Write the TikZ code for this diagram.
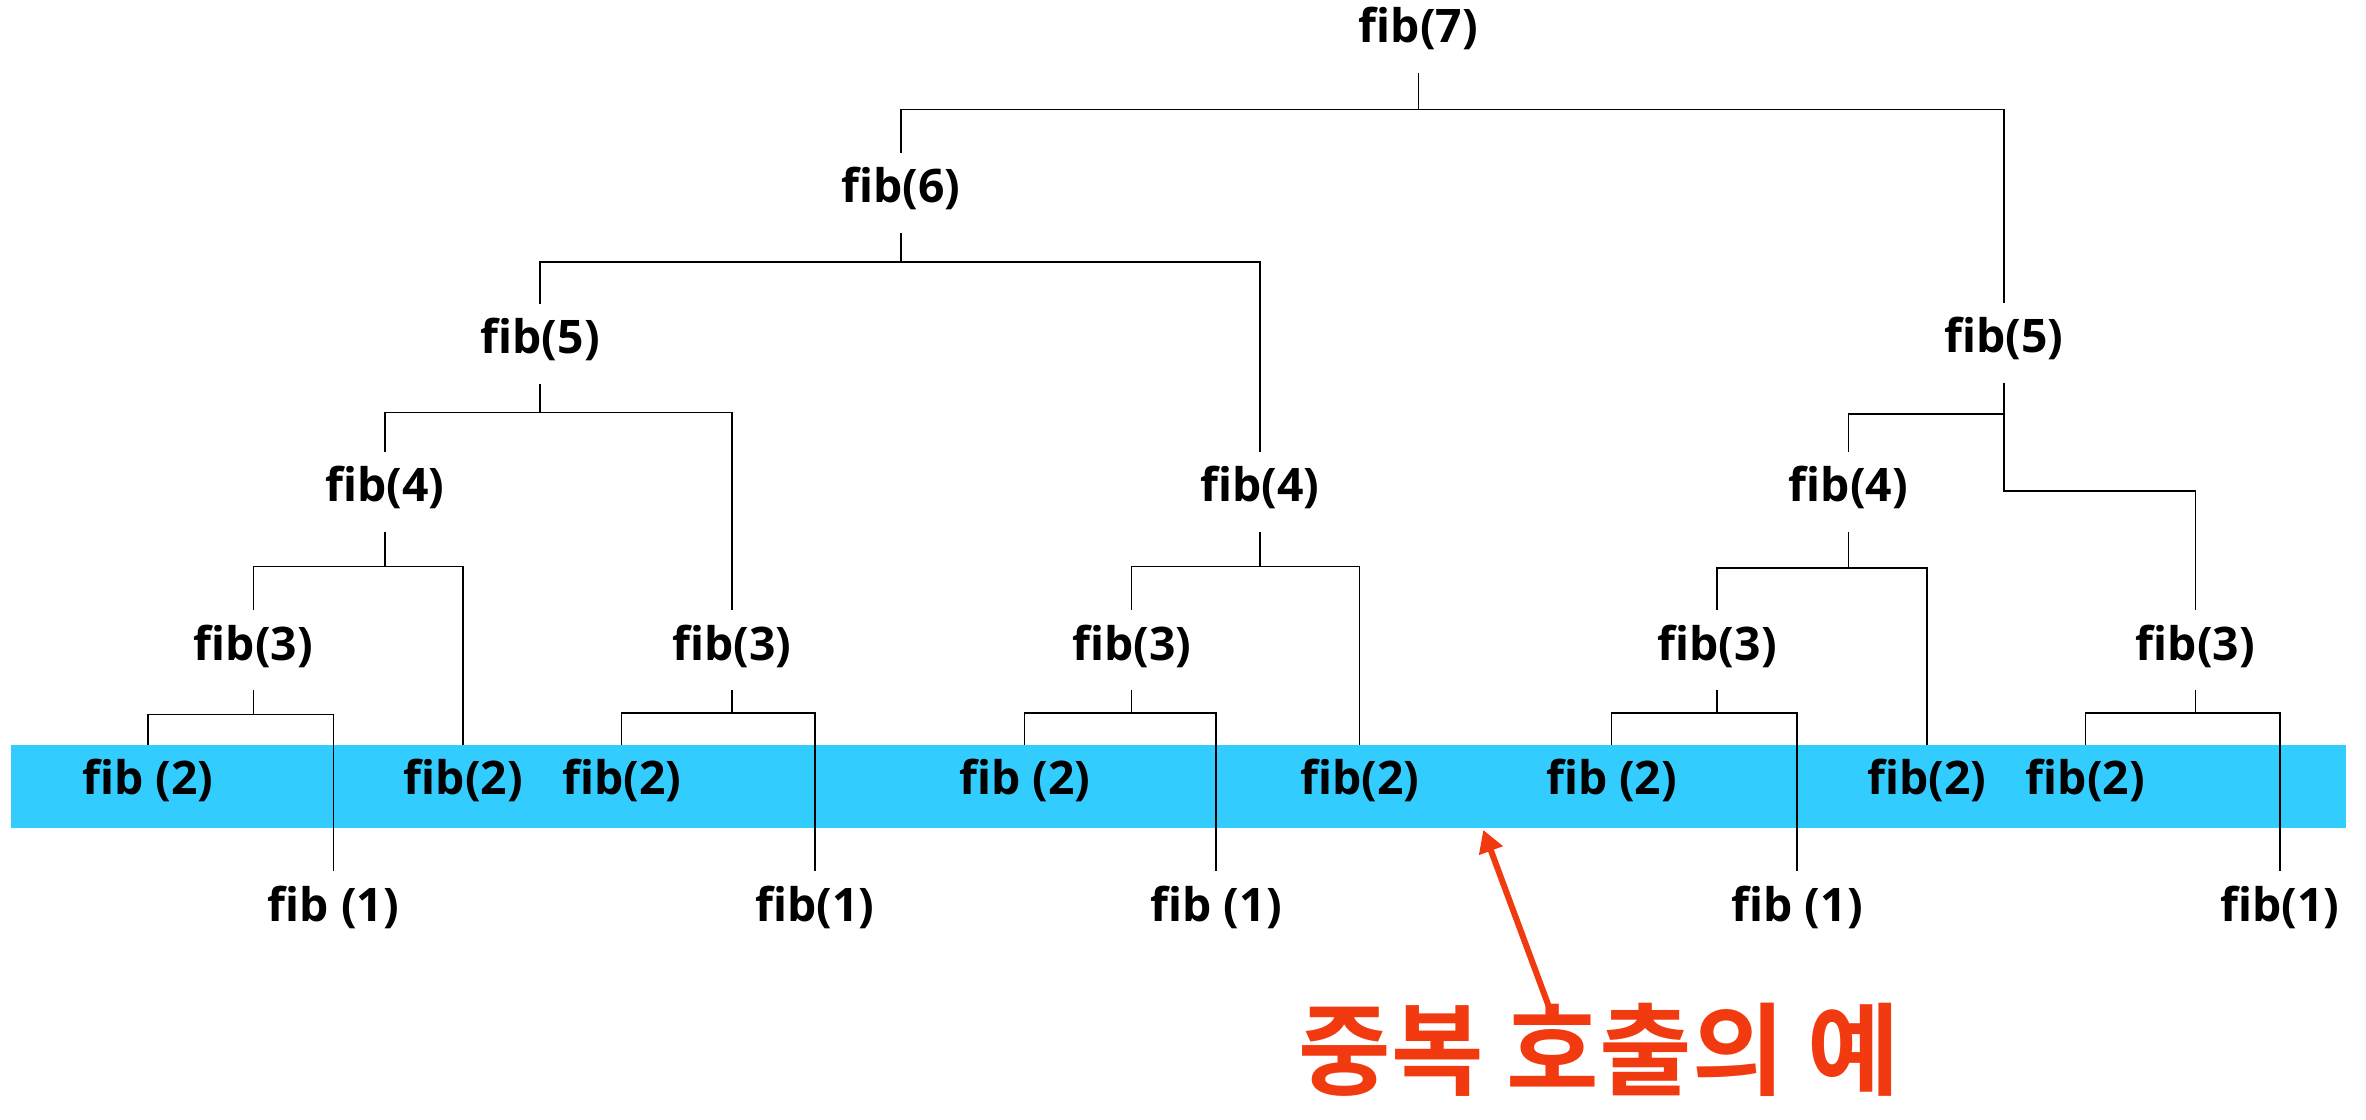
\documentclass[tikz,border=0pt]{standalone}
\usepackage{fontspec}
\setmainfont{Open Sans}
\newfontfamily\kofont{Noto Sans CJK KR}[BoldFont={Noto Sans CJK KR Bold}]
\usetikzlibrary{arrows.meta}

\definecolor{bandcyan}{RGB}{51,204,255}
\definecolor{notered}{RGB}{242,58,16}

\tikzset{every picture/.style={line width=0.75pt}}
\tikzset{
  fibnode/.style={font=\fontsize{23}{26}\selectfont\bfseries, inner sep=0pt,
    text height=0.98em, text depth=0.02em, minimum height=39pt},
  notenode/.style={font=\kofont\fontsize{50}{56}\selectfont\bfseries, text=notered, inner sep=0pt},
  notearrow/.style={draw=notered, line width=3pt, -{Triangle[length=11pt,width=12pt]}}
}

\begin{document}
\begin{tikzpicture}[x=0.75pt,y=0.75pt,yscale=-1,xscale=1]
\useasboundingbox (0,0) rectangle (1568,742);

%Shape: Rectangle
\fill[bandcyan] (7,494) rectangle (1555,549);

% Text Node
\draw (940,22) node (f7) [fibnode] {fib(7)};
% Text Node
\draw (597,128) node (f6) [fibnode] {fib(6)};
% Text Node
\draw (358,228) node (f5a) [fibnode] {fib(5)};
% Text Node
\draw (1328,227) node (f5b) [fibnode] {fib(5)};
% Text Node
\draw (255,326) node (f4a) [fibnode] {fib(4)};
% Text Node
\draw (835,326) node (f4b) [fibnode] {fib(4)};
% Text Node
\draw (1225,326) node (f4c) [fibnode] {fib(4)};
% Text Node
\draw (168,431) node (f3a) [fibnode] {fib(3)};
% Text Node
\draw (485,431) node (f3b) [fibnode] {fib(3)};
% Text Node
\draw (750,431) node (f3c) [fibnode] {fib(3)};
% Text Node
\draw (1138,431) node (f3d) [fibnode] {fib(3)};
% Text Node
\draw (1455,431) node (f3e) [fibnode] {fib(3)};
% Text Node
\draw (98,520) node (f2a) [fibnode] {fib (2)};
% Text Node
\draw (307,520) node (f2b) [fibnode] {fib(2)};
% Text Node
\draw (412,520) node (f2c) [fibnode] {fib(2)};
% Text Node
\draw (679,520) node (f2d) [fibnode] {fib (2)};
% Text Node
\draw (901,520) node (f2e) [fibnode] {fib(2)};
% Text Node
\draw (1068,520) node (f2f) [fibnode] {fib (2)};
% Text Node
\draw (1277,520) node (f2g) [fibnode] {fib(2)};
% Text Node
\draw (1382,520) node (f2h) [fibnode] {fib(2)};
% Text Node
\draw (221,604) node (f1a) [fibnode] {fib (1)};
% Text Node
\draw (540,604) node (f1b) [fibnode] {fib(1)};
% Text Node
\draw (806,604) node (f1c) [fibnode] {fib (1)};
% Text Node
\draw (1191,604) node (f1d) [fibnode] {fib (1)};
% Text Node
\draw (1511,604) node (f1e) [fibnode] {fib(1)};

%Straight Lines
\draw (f7.south) -- ++(0,24) coordinate (b7) -| (f6.north) (b7) -| (f5b.north);
%Straight Lines
\draw (f6.south) -- ++(0,19) coordinate (b6) -| (f5a.north) (b6) -| (f4b.north);
%Straight Lines
\draw (f5a.south) -- ++(0,19) coordinate (b5a) -| (f4a.north) (b5a) -| (f3b.north);
%Straight Lines
\draw (f5b.south) -- ++(0,21) coordinate (b5b) -| (f4c.north);
\draw (b5b) -- ++(0,51) -| (f3e.north);
%Straight Lines
\draw (f4a.south) -- ++(0,23) coordinate (b4a) -| (f3a.north) (b4a) -| (f2b.north);
%Straight Lines
\draw (f4b.south) -- ++(0,23) coordinate (b4b) -| (f3c.north) (b4b) -| (f2e.north);
%Straight Lines
\draw (f4c.south) -- ++(0,24) coordinate (b4c) -| (f3d.north) (b4c) -| (f2g.north);
%Straight Lines
\draw (f3a.south) -- ++(0,16) coordinate (b3a) -| (f2a.north) (b3a) -| (f1a.north);
%Straight Lines
\draw (f3b.south) -- ++(0,15) coordinate (b3b) -| (f2c.north) (b3b) -| (f1b.north);
%Straight Lines
\draw (f3c.south) -- ++(0,15) coordinate (b3c) -| (f2d.north) (b3c) -| (f1c.north);
%Straight Lines
\draw (f3d.south) -- ++(0,15) coordinate (b3d) -| (f2f.north) (b3d) -| (f1d.north);
%Straight Lines
\draw (f3e.south) -- ++(0,15) coordinate (b3e) -| (f2h.north) (b3e) -| (f1e.north);

% Text Node
\draw (1060,696) node (note) [notenode] {중복 호출의 예};
\coordinate (tip) at (983,550);
%Straight Lines
\draw[notearrow] ([xshift=-24pt,yshift=5pt]note.north) -- (tip);

\end{tikzpicture}
\end{document}
